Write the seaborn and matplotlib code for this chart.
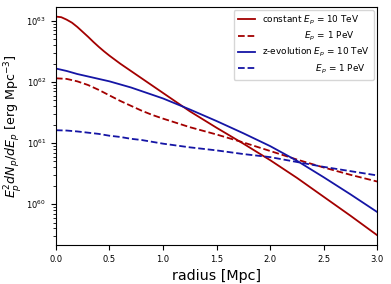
"""Proton energy density profile vs radius, constant vs z-evolution."""
import matplotlib

matplotlib.use("Agg")
import matplotlib.pyplot as plt
import pandas as pd
import seaborn as sns

# --- values (log10 of E_p^2 dN_p/dE_p) ---
radius_fine = [0, 0.05, 0.1, 0.15, 0.2, 0.25, 0.3, 0.35, 0.4, 0.45, 0.5, 0.6, 0.7, 0.8,
               0.9, 1.0, 1.25, 1.5, 1.75, 2.0, 2.25, 2.5, 2.75, 3.0]
radius = [0, 0.1, 0.2, 0.3, 0.4, 0.5, 0.6, 0.7, 0.8, 0.9, 1.0, 1.25, 1.5, 1.75, 2.0,
          2.25, 2.5, 2.75, 3.0]

const_10tev = [63.07, 63.06, 63.02, 62.97, 62.90, 62.82, 62.74, 62.655, 62.575, 62.50,
               62.43, 62.30, 62.18, 62.06, 61.94, 61.82, 61.52, 61.25, 60.99, 60.72,
               60.43, 60.12, 59.81, 59.49]
const_1pev = [62.06, 62.05, 62.01, 61.95, 61.87, 61.78, 61.69, 61.61, 61.53, 61.46,
              61.40, 61.26, 61.14, 61.01, 60.87, 60.73, 60.60, 60.48, 60.37]
zevo_10tev = [62.22, 62.18, 62.13, 62.09, 62.05, 62.01, 61.96, 61.91, 61.85, 61.79,
              61.73, 61.55, 61.36, 61.16, 60.95, 60.71, 60.44, 60.16, 59.87]
zevo_1pev = [61.21, 61.205, 61.19, 61.17, 61.15, 61.12, 61.10, 61.07, 61.05, 61.02,
             60.99, 60.93, 60.88, 60.82, 60.77, 60.69, 60.61, 60.54, 60.47]

labels = [
    r"constant $E_p$ = 10 TeV",
    "               " + r"$E_p$ = 1 PeV",
    r"z-evolution $E_p$ = 10 TeV",
    "                   " + r"$E_p$ = 1 PeV",
]
series = [(radius_fine, const_10tev), (radius, const_1pev),
          (radius, zevo_10tev), (radius, zevo_1pev)]
colors = ["#a30000", "#a30000", "#1515a5", "#1515a5"]
dash_styles = ["", (3.7, 1.6), "", (3.7, 1.6)]

frames = []
for lab, (r, vals) in zip(labels, series):
    frames.append(pd.DataFrame({"radius": r, "logE": vals, "label": lab}))
df = pd.concat(frames, ignore_index=True)
df["E"] = 10 ** df["logE"]

fig, ax = plt.subplots(figsize=(3.91, 2.84), dpi=100)
fig.subplots_adjust(left=0.143, right=0.965, bottom=0.137, top=0.976)

sns.lineplot(
    data=df, x="radius", y="E", hue="label", style="label",
    hue_order=labels, style_order=labels,
    palette=dict(zip(labels, colors)), dashes=dict(zip(labels, dash_styles)),
    linewidth=1.3, ax=ax,
)
ax.set_yscale("log")
ax.set_xlim(0, 3.0)
ax.set_ylim(10 ** 59.33, 10 ** 63.23)
ax.tick_params(labelsize=6)
ax.set_xlabel("radius [Mpc]", fontsize=10.3)
ax.set_ylabel(r"$E_p^2 dN_p/dE_p$ [erg Mpc$^{-3}$]", fontsize=9.1, labelpad=2)
ax.legend(title=None, loc="upper right", fontsize=6.4, labelspacing=0.35,
          handlelength=2.0, borderpad=0.45, borderaxespad=0.35)

fig.savefig("out.png", dpi=100)
